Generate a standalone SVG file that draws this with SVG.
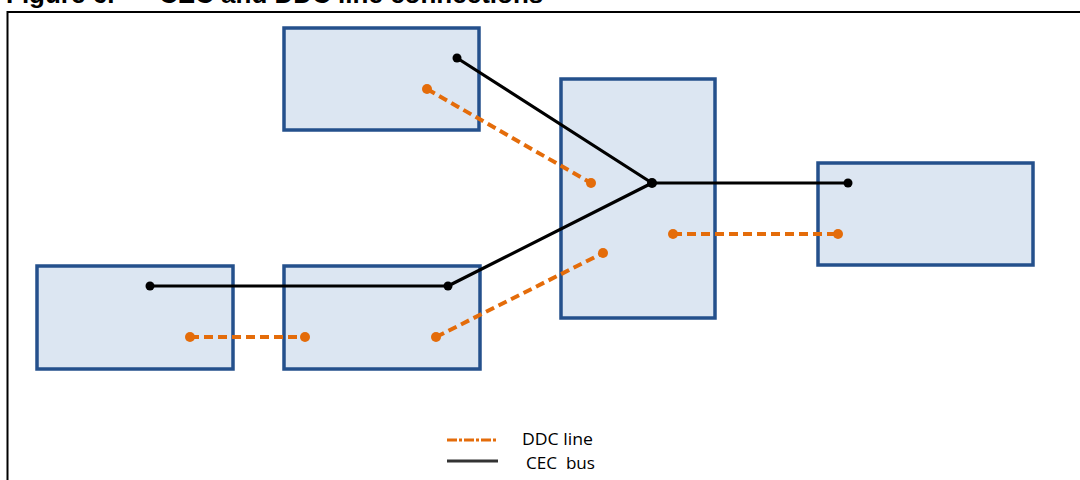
<svg xmlns="http://www.w3.org/2000/svg" width="1080" height="480" viewBox="0 0 1080 480">
  <style>
    .box { fill: #DCE6F2; stroke: #24508C; stroke-width: 3.5; }
    .cec { fill: none; stroke: #000; stroke-width: 3.2; stroke-linejoin: round; }
    .ddc { fill: none; stroke: #E46C0A; stroke-width: 4; stroke-dasharray: 9 5; }
    .cdot { fill: #000; }
    .ddot { fill: #E46C0A; }
    .title { font-family: "Liberation Sans", Arial, sans-serif; font-weight: bold; font-size: 26px; fill: #000; }
    .leg { font-family: "Open Sans", "Liberation Sans", sans-serif; font-size: 17px; fill: #000; }
  </style>
  <rect width="1080" height="480" fill="#fff"/>
  <text class="title" x="6" y="3">Figure 6.<tspan x="159">CEC and DDC line connections</tspan></text>
  <path d="M7.5 490 V12 H1090" fill="none" stroke="#000" stroke-width="2"/>

  <g id="node-top"><rect class="box" x="284" y="28" width="195" height="102"/></g>
  <g id="node-center"><rect class="box" x="561" y="79" width="154" height="239"/></g>
  <g id="node-right"><rect class="box" x="818" y="163" width="215" height="102"/></g>
  <g id="node-left1"><rect class="box" x="37" y="266" width="196" height="103"/></g>
  <g id="node-left2"><rect class="box" x="284" y="266" width="196" height="103"/></g>

  <g id="connectors">
    <polyline class="cec" points="457,58 652,183 848,183"/>
    <polyline class="cec" points="652,183 448,286 150,286"/>
    <circle class="cdot" cx="457" cy="58" r="4.5"/>
    <circle class="cdot" cx="652" cy="183" r="5"/>
    <circle class="cdot" cx="848" cy="183" r="4.5"/>
    <circle class="cdot" cx="448" cy="286" r="4.5"/>
    <circle class="cdot" cx="150" cy="286" r="4.5"/>

    <line class="ddc" x1="427" y1="89" x2="591" y2="183"/>
    <line class="ddc" x1="673" y1="234" x2="838" y2="234"/>
    <line class="ddc" x1="190" y1="337" x2="305" y2="337"/>
    <line class="ddc" x1="436" y1="337" x2="603" y2="253"/>
    <circle class="ddot" cx="427" cy="89" r="5"/>
    <circle class="ddot" cx="591" cy="183" r="5"/>
    <circle class="ddot" cx="673" cy="234" r="5"/>
    <circle class="ddot" cx="838" cy="234" r="5"/>
    <circle class="ddot" cx="190" cy="337" r="5"/>
    <circle class="ddot" cx="305" cy="337" r="5"/>
    <circle class="ddot" cx="436" cy="337" r="5"/>
    <circle class="ddot" cx="603" cy="253" r="5"/>
  </g>

  <g id="legend">
    <line x1="447" y1="440" x2="498" y2="440" stroke="#E46C0A" stroke-width="3" stroke-dasharray="10 2 3 2"/>
    <line x1="447" y1="461" x2="498" y2="461" stroke="#333" stroke-width="3"/>
    <text class="leg" x="522" y="445" textLength="71" lengthAdjust="spacingAndGlyphs">DDC line</text>
    <text class="leg" x="526" y="469" textLength="69" lengthAdjust="spacingAndGlyphs" xml:space="preserve">CEC  bus</text>
  </g>
</svg>
